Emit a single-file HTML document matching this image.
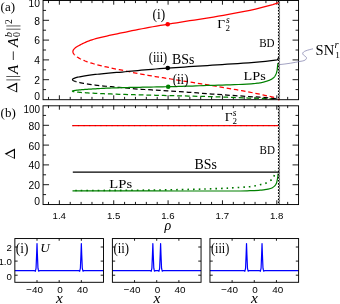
<!DOCTYPE html>
<html><head><meta charset="utf-8"><title>figure</title>
<style>html,body{margin:0;padding:0;background:#fff;}svg{display:block;will-change:transform;}text{font-kerning:normal;}</style></head>
<body>
<svg width="340" height="304" viewBox="0 0 340 304">
<rect x="0" y="0" width="340" height="304" fill="#fff"/>
<g fill="none" stroke="#000" stroke-width="0.9">
<path d="M48.49 0.5v2.6M48.49 99.5v-2.6M59.36 0.5v4.2M59.36 99.5v-4.2M70.23 0.5v2.6M70.23 99.5v-2.6M81.1 0.5v2.6M81.1 99.5v-2.6M91.98 0.5v2.6M91.98 99.5v-2.6M102.85 0.5v2.6M102.85 99.5v-2.6M113.72 0.5v4.2M113.72 99.5v-4.2M124.59 0.5v2.6M124.59 99.5v-2.6M135.46 0.5v2.6M135.46 99.5v-2.6M146.34 0.5v2.6M146.34 99.5v-2.6M157.21 0.5v2.6M157.21 99.5v-2.6M168.08 0.5v4.2M168.08 99.5v-4.2M178.95 0.5v2.6M178.95 99.5v-2.6M189.83 0.5v2.6M189.83 99.5v-2.6M200.7 0.5v2.6M200.7 99.5v-2.6M211.57 0.5v2.6M211.57 99.5v-2.6M222.44 0.5v4.2M222.44 99.5v-4.2M233.32 0.5v2.6M233.32 99.5v-2.6M244.19 0.5v2.6M244.19 99.5v-2.6M255.06 0.5v2.6M255.06 99.5v-2.6M265.93 0.5v2.6M265.93 99.5v-2.6M276.81 0.5v4.2M276.81 99.5v-4.2M287.68 0.5v2.6M287.68 99.5v-2.6M43.05 79.7h6M298.55 79.7h-6M43.05 59.9h6M298.55 59.9h-6M43.05 40.1h6M298.55 40.1h-6M43.05 20.3h6M298.55 20.3h-6M43.05 89.6h3M298.55 89.6h-3M43.05 69.8h3M298.55 69.8h-3M43.05 50h3M298.55 50h-3M43.05 30.2h3M298.55 30.2h-3M43.05 10.4h3M298.55 10.4h-3"/>
<path d="M48.49 105.5v2.6M48.49 204.5v-2.6M59.36 105.5v4.2M59.36 204.5v-4.2M70.23 105.5v2.6M70.23 204.5v-2.6M81.1 105.5v2.6M81.1 204.5v-2.6M91.98 105.5v2.6M91.98 204.5v-2.6M102.85 105.5v2.6M102.85 204.5v-2.6M113.72 105.5v4.2M113.72 204.5v-4.2M124.59 105.5v2.6M124.59 204.5v-2.6M135.46 105.5v2.6M135.46 204.5v-2.6M146.34 105.5v2.6M146.34 204.5v-2.6M157.21 105.5v2.6M157.21 204.5v-2.6M168.08 105.5v4.2M168.08 204.5v-4.2M178.95 105.5v2.6M178.95 204.5v-2.6M189.83 105.5v2.6M189.83 204.5v-2.6M200.7 105.5v2.6M200.7 204.5v-2.6M211.57 105.5v2.6M211.57 204.5v-2.6M222.44 105.5v4.2M222.44 204.5v-4.2M233.32 105.5v2.6M233.32 204.5v-2.6M244.19 105.5v2.6M244.19 204.5v-2.6M255.06 105.5v2.6M255.06 204.5v-2.6M265.93 105.5v2.6M265.93 204.5v-2.6M276.81 105.5v4.2M276.81 204.5v-4.2M287.68 105.5v2.6M287.68 204.5v-2.6M43.05 184.7h6M298.55 184.7h-6M43.05 164.9h6M298.55 164.9h-6M43.05 145.1h6M298.55 145.1h-6M43.05 125.3h6M298.55 125.3h-6M43.05 194.6h3M298.55 194.6h-3M43.05 174.8h3M298.55 174.8h-3M43.05 155h3M298.55 155h-3M43.05 135.2h3M298.55 135.2h-3M43.05 115.4h3M298.55 115.4h-3"/>
</g>
<g fill="none" stroke-width="1.25" stroke-linejoin="round">
<path d="M72.3 91.2L72.34 91.29L72.47 91.37L72.69 91.46L72.99 91.54L73.37 91.63L73.85 91.71L74.41 91.8L75.05 91.88L75.78 91.97L76.6 92.05L77.5 92.14L78.49 92.23L79.57 92.31L80.73 92.4L81.97 92.51L83.31 92.63L84.73 92.74L86.23 92.85L87.82 92.94L89.5 93.04L91.26 93.13L93.11 93.23L95.04 93.33L97.07 93.42L99.17 93.52L101.36 93.61L103.64 93.7L106.01 93.8L108.46 93.89L111 93.98L113.62 94.07L116.33 94.17L119.12 94.26L122 94.35L124.97 94.45L128.02 94.54L131.16 94.63L134.39 94.72L137.7 94.82L141.09 94.91L144.57 95L148.14 95.09L151.8 95.19L155.54 95.28L159.37 95.37L163.28 95.47L167.28 95.56L171.36 95.65L175.53 95.75L179.79 95.85L184.13 95.95L188.56 96.06L193.07 96.17L197.67 96.29L202.36 96.41L207.13 96.53L211.99 96.67L216.94 96.84L221.97 97.03L227.08 97.24L232.29 97.44L237.57 97.65L242.95 97.85L248.41 98.02L253.95 98.19L259.59 98.37L265.31 98.56L271.11 98.78L277 99.04" stroke="#008000" stroke-dasharray="4.8 2.9" stroke-dashoffset="-5.0"/>
<path d="M75.25 81.42L75.98 81.64L76.8 81.87L77.7 82.1L78.69 82.32L79.76 82.55L80.92 82.79L82.16 83.04L83.5 83.29L84.91 83.55L86.42 83.81L88.01 84.07L89.68 84.33L91.44 84.59L93.29 84.84L95.22 85.08L97.24 85.31L99.35 85.55L101.54 85.79L103.81 86.03L106.18 86.25L108.62 86.48L111.16 86.7L113.78 86.93L116.48 87.16L119.28 87.42L122.15 87.68L125.12 87.96L128.17 88.24L131.3 88.52L134.52 88.78L137.83 89.03L141.23 89.26L144.7 89.5L148.27 89.73L151.92 89.96L155.66 90.19L159.48 90.42L163.39 90.65L167.38 90.88L171.46 91.12L175.63 91.36L179.88 91.64L184.22 91.95L188.65 92.28L193.16 92.63L197.75 92.99L202.43 93.35L207.2 93.7L212.05 94.05L216.99 94.39L222.02 94.74L227.13 95.08L232.33 95.44L237.61 95.79L242.98 96.15L248.44 96.5L253.98 96.85L259.6 97.21L265.32 97.61L271.12 98.1L277 98.68" stroke="#000" stroke-dasharray="4.8 2.9" stroke-dashoffset="-4.2"/>
<path d="M74.43 54.72L74.98 55.25L75.62 55.79L76.35 56.35L77.15 56.92L78.05 57.5L79.02 58.1L80.09 58.69L81.24 59.27L82.47 59.85L83.79 60.42L85.19 61L86.68 61.56L88.25 62.11L89.91 62.67L91.66 63.22L93.49 63.77L95.4 64.31L97.4 64.8L99.48 65.3L101.65 65.84L103.91 66.39L106.25 66.93L108.67 67.48L111.18 68.03L113.77 68.58L116.45 69.12L119.22 69.67L122.07 70.23L125 70.84L128.02 71.49L131.13 72.15L134.32 72.82L137.59 73.47L140.95 74.09L144.4 74.7L147.93 75.31L151.54 75.91L155.24 76.51L159.03 77.12L162.9 77.73L166.86 78.36L170.9 79L175.02 79.65L179.23 80.32L183.53 81.01L187.91 81.71L192.38 82.42L196.93 83.16L201.56 83.9L206.28 84.67L211.09 85.45L215.98 86.25L220.96 87.07L226.02 87.92L231.17 88.81L236.4 89.73L241.71 90.68L247.12 91.68L252.6 92.75L258.17 93.89L263.83 95.1L269.57 96.37L275.4 97.69" stroke="#f00" stroke-dasharray="4.5 2.8" stroke-dashoffset="-3.4"/>
<path d="M72.3 91.2L72.33 91.12L72.4 91.05L72.53 90.97L72.72 90.9L72.95 90.82L73.23 90.75L73.57 90.67L73.96 90.6L74.4 90.52L74.9 90.44L75.44 90.37L76.04 90.29L76.69 90.22L77.39 90.14L78.14 90.07L78.95 89.99L79.8 89.91L80.71 89.83L81.67 89.74L82.69 89.66L83.75 89.56L84.87 89.47L86.03 89.38L87.25 89.29L88.53 89.19L89.85 89.1L91.23 89.02L92.65 88.93L94.13 88.84L95.67 88.76L97.25 88.67L98.89 88.58L100.57 88.5L102.31 88.41L104.1 88.33L105.95 88.24L107.84 88.16L109.79 88.08L111.79 88L113.84 87.93L115.94 87.85L118.1 87.78L120.3 87.71L122.56 87.64L124.87 87.57L127.24 87.52L129.65 87.47L132.12 87.44L134.64 87.4L137.21 87.35L139.83 87.29L142.5 87.23L145.23 87.18L148.01 87.12L150.84 87.06L153.72 87L156.65 86.94L159.64 86.88L162.68 86.82L165.77 86.75L168.91 86.67L172.1 86.6L175.35 86.51L178.64 86.43L181.99 86.34L185.39 86.24L188.85 86.14L192.35 86.04L195.91 85.9L199.52 85.75L203.18 85.6L206.89 85.47L210.65 85.36L214.47 85.26L218.34 85.16L222.26 85.06L226.23 84.96L230.26 84.84L234.33 84.69L238.46 84.5L242.64 84.28L246.87 84.04L251.16 83.77L255.49 83.42L258 83.16L258.2 83.14L258.4 83.12L258.6 83.09L258.8 83.07L259 83.04L259.2 83.01L259.4 82.99L259.6 82.96L259.8 82.93L260 82.9L260.2 82.87L260.4 82.84L260.6 82.8L260.8 82.76L261 82.72L261.2 82.68L261.4 82.64L261.6 82.59L261.8 82.55L262 82.5L262.2 82.45L262.4 82.4L262.6 82.35L262.8 82.3L263 82.24L263.2 82.19L263.4 82.13L263.6 82.08L263.8 82.02L264 81.97L264.2 81.91L264.4 81.85L264.6 81.79L264.8 81.74L265 81.68L265.2 81.62L265.4 81.56L265.6 81.51L265.8 81.45L266 81.39L266.2 81.33L266.4 81.27L266.6 81.21L266.8 81.15L267 81.08L267.2 81.02L267.4 80.95L267.6 80.89L267.8 80.82L268 80.75L268.2 80.68L268.4 80.61L268.6 80.53L268.8 80.46L269 80.38L269.2 80.3L269.4 80.22L269.6 80.13L269.8 80.05L270 79.96L270.2 79.87L270.4 79.78L270.6 79.69L270.8 79.59L271 79.49L271.2 79.38L271.4 79.27L271.6 79.15L271.8 79.03L272 78.91L272.2 78.78L272.4 78.64L272.6 78.5L272.8 78.35L273 78.2L273.2 78.03L273.4 77.87L273.6 77.69L273.8 77.51L274 77.3L274.2 77.08L274.4 76.83L274.6 76.57L274.8 76.28L275 75.96L275.2 75.63L275.4 75.28L275.6 74.9L275.8 74.5L276 74.07L276.2 73.57L276.4 73L276.6 72.34L276.8 71.58L277 70.72L277.2 69.63L277.4 67.86L277.6 65.94L277.8 64.33L277.95 63.2" stroke="#008000"/>
<path d="M75.25 81.42L74.6 81.19L74.05 80.96L73.57 80.74L73.19 80.51L72.89 80.28L72.67 80.05L72.54 79.83L72.5 79.6L72.54 79.38L72.67 79.17L72.89 78.95L73.19 78.73L73.57 78.52L74.05 78.3L74.61 78.08L75.25 77.87L75.98 77.65L76.8 77.43L77.7 77.22L78.69 77L79.77 76.78L80.93 76.56L82.17 76.34L83.51 76.12L84.93 75.89L86.43 75.64L88.02 75.38L89.7 75.13L91.46 74.91L93.31 74.69L95.24 74.47L97.27 74.25L99.37 74.03L101.56 73.81L103.84 73.6L106.21 73.37L108.66 73.15L111.2 72.93L113.82 72.71L116.53 72.48L119.32 72.26L122.2 72.03L125.17 71.75L128.22 71.45L131.36 71.14L134.59 70.82L137.9 70.52L141.29 70.22L144.77 69.92L148.34 69.61L152 69.31L155.74 69L159.57 68.7L163.48 68.4L167.48 68.11L171.56 67.84L175.73 67.56L179.99 67.29L184.33 67.01L188.76 66.72L193.27 66.42L197.87 66.12L202.56 65.82L207.33 65.51L212.19 65.19L217.14 64.88L222.17 64.55L227.28 64.22L232.49 63.89L237.77 63.53L243.15 63.17L248.61 62.78L254.15 62.35L259.79 61.86L265.51 61.28L271.31 60.66L277.2 59.98L277.8 59.2L278.5 57.7" stroke="#000"/>
<path d="M74.43 54.72L73.96 54.19L73.58 53.66L73.28 53.14L73.07 52.63L72.94 52.11L72.9 51.6L72.94 51.11L73.07 50.61L73.29 50.12L73.59 49.62L73.98 49.12L74.46 48.62L75.02 48.11L75.67 47.59L76.4 47.07L77.22 46.53L78.13 45.98L79.12 45.42L80.21 44.83L81.37 44.22L82.63 43.6L83.97 42.98L85.39 42.34L86.91 41.69L88.5 41.04L90.19 40.43L91.96 39.84L93.82 39.25L95.77 38.68L97.8 38.13L99.92 37.61L102.12 37.1L104.41 36.58L106.79 36.03L109.25 35.48L111.8 34.91L114.44 34.35L117.16 33.78L119.97 33.22L122.87 32.63L125.85 32.02L128.92 31.38L132.08 30.73L135.32 30.06L138.65 29.4L142.06 28.75L145.56 28.09L149.15 27.43L152.83 26.76L156.59 26.1L160.43 25.43L164.37 24.76L168.39 24.09L172.49 23.42L176.69 22.76L180.97 22.1L185.33 21.43L189.78 20.74L194.32 20.04L198.95 19.33L203.66 18.6L208.46 17.84L213.34 17.03L218.31 16.17L223.37 15.27L228.51 14.36L233.74 13.44L239.06 12.49L244.46 11.48L249.95 10.35L255.53 9.08L261.19 7.7L266.94 6.2L272.78 4.57L278.7 2.59" stroke="#f00"/>
</g>
<circle cx="167.7" cy="24.2" r="2.3" fill="#f00"/>
<circle cx="167.8" cy="68.05" r="2.3" fill="#000"/>
<circle cx="168.2" cy="86.7" r="2.3" fill="#008000"/>
<circle cx="278.8" cy="99.5" r="0.9" fill="#f00"/>
<g fill="none" stroke-width="1.2">
<path d="M72.3 125.7H278.8" stroke="#f00"/>
<path d="M72.3 125.7H278.8" stroke="#700" stroke-width="0.9" stroke-dasharray="1.2 4.4" opacity="0.55"/>
<path d="M72.8 172.2H279.2" stroke="#000" stroke-width="1.3"/>
<path d="M72.5 190.9C85.42 190.91 123.75 190.93 150 190.95C176.25 190.97 213.33 191.04 230 191C246.67 190.96 245 190.83 250 190.7C255 190.57 257.67 190.35 260 190.2C262.33 190.05 262.67 189.97 264 189.8C265.33 189.63 266.67 189.5 268 189.2C269.33 188.9 270.83 188.58 272 188C273.17 187.42 274.23 186.58 275 185.7C275.77 184.82 276.18 183.88 276.6 182.7C277.02 181.52 277.28 179.72 277.5 178.6C277.72 177.48 277.8 176.83 277.9 176C278 175.17 278.07 174 278.1 173.6" stroke="#008000"/>
<path d="M72.5 190.5C78.75 190.48 97.08 190.47 110 190.4C122.92 190.33 136.67 190.27 150 190.1C163.33 189.93 178.33 189.67 190 189.4C201.67 189.13 212.83 188.77 220 188.5C227.17 188.23 228.93 188.03 233 187.8C237.07 187.57 241.57 187.28 244.4 187.1C247.23 186.92 248.18 186.92 250 186.7C251.82 186.48 253.48 186.17 255.3 185.8C257.12 185.43 259.12 184.95 260.9 184.5C262.68 184.05 264.37 183.8 266 183.1C267.63 182.4 269.6 181.08 270.7 180.3C271.8 179.52 272.05 179.08 272.6 178.4C273.15 177.72 273.65 177.02 274 176.2C274.35 175.38 274.5 174.43 274.7 173.5C274.9 172.57 275.12 171.08 275.2 170.6" stroke="#007800" stroke-width="1.6" stroke-dasharray="1.6 4.0" stroke-dashoffset="-2.8"/>
</g>
<g fill="none">
<path d="M278.6 0.5V99.5 M278.6 105.5V204.5" stroke="#000" stroke-width="1.3" stroke-dasharray="1.7 1.4"/>
<path d="M279.5 0.5V99.5 M279.5 105.5V204.5" stroke="#222" stroke-width="0.8" stroke-dasharray="1.5 1.6" stroke-dashoffset="-1.6"/>
<path d="M279.6 0.5V99.5 M279.6 105.5V204.5" stroke="#777" stroke-width="0.4"/>
</g>
<g fill="none" stroke="#000" stroke-width="0.95">
<rect x="43.05" y="0.5" width="255.5" height="99.2"/>
<rect x="43.05" y="105.8" width="255.5" height="98.75"/>
</g>
<path d="M279.4 64.6 C287 63.9 294 62.7 300 61.4 C303 61 305.6 60.6 306.4 58.6 C307.2 56.4 302.8 55.6 302.7 53.6 C302.6 51.2 308 50 313 48.8" fill="none" stroke="#7a7aa8" stroke-width="0.7"/>
<g font-family="Liberation Sans, sans-serif" font-size="10.3" fill="#000" text-anchor="end">
<text x="39.9" y="6.9">10</text>
<text x="39.9" y="24.5">8</text>
<text x="39.9" y="44.3">6</text>
<text x="39.9" y="64.1">4</text>
<text x="39.9" y="83.9">2</text>
<text x="39.9" y="100">0</text>
<text x="39.9" y="129.8">80</text>
<text x="39.9" y="149.7">60</text>
<text x="39.9" y="169.4">40</text>
<text x="39.9" y="189.3">20</text>
<text x="39.9" y="204.9">0</text>
<text x="39.9" y="112.6" textLength="16.5" lengthAdjust="spacingAndGlyphs">100</text>
</g>
<g font-family="Liberation Sans, sans-serif" font-size="9.5" fill="#000">
<text x="52.56" y="218.8" textLength="13.4" lengthAdjust="spacingAndGlyphs">1.4</text>
<text x="106.92" y="218.8" textLength="13.4" lengthAdjust="spacingAndGlyphs">1.5</text>
<text x="161.28" y="218.8" textLength="13.4" lengthAdjust="spacingAndGlyphs">1.6</text>
<text x="215.64" y="218.8" textLength="13.4" lengthAdjust="spacingAndGlyphs">1.7</text>
<text x="270.01" y="218.8" textLength="13.4" lengthAdjust="spacingAndGlyphs">1.8</text>
</g>
<g font-family="Liberation Serif, serif" fill="#000">
<text x="0.6" y="10.8" font-size="13">(a)</text>
<text x="0.6" y="116.6" font-size="13">(b)</text>
<text x="152.6" y="19" font-size="14" textLength="12.6" lengthAdjust="spacingAndGlyphs">(i)</text>
<text x="148.8" y="62.4" font-size="14" textLength="18.4" lengthAdjust="spacingAndGlyphs">(iii)</text>
<text x="171.9" y="63.6" font-size="14" textLength="22.4" lengthAdjust="spacingAndGlyphs">BSs</text>
<text x="172.8" y="84.1" font-size="14" textLength="15.6" lengthAdjust="spacingAndGlyphs">(ii)</text>
<text x="243.6" y="79.8" font-size="13.4" textLength="22.2" lengthAdjust="spacingAndGlyphs">LPs</text>
<text x="259.2" y="47.0" font-size="12.2" textLength="15.4" lengthAdjust="spacingAndGlyphs">BD</text>
<text x="217.2" y="27.5" font-size="13.5">&#915;</text>
<text x="225.9" y="22.5" font-size="9.5" font-style="italic">s</text>
<text x="225.6" y="30.8" font-size="9">2</text>
<text x="315.6" y="54.5" font-size="15.4" textLength="18.6" lengthAdjust="spacingAndGlyphs">SN</text>
<text x="334.6" y="47.8" font-size="10.5" font-style="italic">r</text>
<text x="335.2" y="57.6" font-size="9.2">1</text>
<text x="109.3" y="187.6" font-size="13.4" textLength="22.8" lengthAdjust="spacingAndGlyphs">LPs</text>
</g>
<g font-family="Liberation Serif, serif" fill="#000">
<text x="224.8" y="121.0" font-size="13.5">&#915;</text>
<text x="232.8" y="116.2" font-size="9.5" font-style="italic">s</text>
<text x="232.6" y="124.4" font-size="9">2</text>
<text x="194.6" y="168.7" font-size="14" textLength="22.4" lengthAdjust="spacingAndGlyphs">BSs</text>
<text x="259.5" y="154.2" font-size="12.2" textLength="15.4" lengthAdjust="spacingAndGlyphs">BD</text>
<text x="164.4" y="230.4" font-size="14" font-style="italic">&#961;</text>
</g>
<path d="M6.5 87.6L17.2 82.5L17.2 92.5ZM8.92 87.94L16.1 84.52L16.1 91.23Z" fill="#000" fill-rule="evenodd"/>
<path d="M4.6 153.8L15 148.4L15 159ZM6.86 154.15L13.9 150.49L13.9 157.67Z" fill="#000" fill-rule="evenodd"/>
<path d="M6.3 79.9H20.3M6.3 76.5H20.3M6.3 29.2H20.5M6.3 25.95H20.5" fill="none" stroke="#000" stroke-width="0.65"/><path d="M13.3 60V51.4" fill="none" stroke="#000" stroke-width="0.8"/>
<g font-family="Liberation Serif, serif" fill="#000">
<text transform="translate(17.6 74.1) rotate(-90)" font-size="15" font-style="italic">A</text>
<text transform="translate(17.6 47.0) rotate(-90)" font-size="15" font-style="italic">A</text>
<text transform="translate(20.3 37.0) rotate(-90)" font-size="10">0</text>
<text transform="translate(11.9 37.3) rotate(-90)" font-size="10.5" font-style="italic">b</text>
<text transform="translate(12.1 23.9) rotate(-90)" font-size="9.5">2</text>
</g>
<path d="M37.01 238.55v2.2M37.01 282.3v-2.2M59.18 238.55v2.2M59.18 282.3v-2.2M81.34 238.55v2.2M81.34 282.3v-2.2M14.85 275.2h2.8M103.5 275.2h-2.8M14.85 261.1h2.8M103.5 261.1h-2.8M14.85 247h2.8M103.5 247h-2.8" fill="none" stroke="#000" stroke-width="0.9"/>
<path d="M14.85 270.65L34.61 270.65L35.41 271.25L36.06 268.15L36.61 254.65L37.01 243.6L37.41 254.65L37.96 268.15L38.61 271.25L39.41 270.65L78.94 270.65L79.74 271.25L80.39 268.15L80.94 254.65L81.34 243.6L81.74 254.65L82.29 268.15L82.94 271.25L83.74 270.65L103.5 270.65" fill="none" stroke="#00f" stroke-width="1.2" stroke-linejoin="round"/>
<rect x="14.85" y="238.55" width="88.65" height="43.75" fill="none" stroke="#000" stroke-width="0.95"/>
<text x="15.85" y="252.5" font-family="Liberation Serif, serif" font-size="14" textLength="12.6" lengthAdjust="spacingAndGlyphs">(i)</text>
<g font-family="Liberation Sans, sans-serif" font-size="9.9" fill="#000" text-anchor="middle">
<text x="34.61" y="292.6">&#8722;40</text>
<text x="59.98" y="292.6">0</text>
<text x="82.54" y="292.6">40</text>
</g>
<text x="59.48" y="303.3" font-family="Liberation Serif, serif" font-size="15.5" font-style="italic" text-anchor="middle">x</text>
<path d="M134.56 238.55v2.2M134.56 282.3v-2.2M156.73 238.55v2.2M156.73 282.3v-2.2M178.89 238.55v2.2M178.89 282.3v-2.2M112.4 275.2h2.8M201.05 275.2h-2.8M112.4 261.1h2.8M201.05 261.1h-2.8M112.4 247h2.8M201.05 247h-2.8" fill="none" stroke="#000" stroke-width="0.9"/>
<path d="M112.4 270.65L150.45 270.65L151.25 271.25L151.9 268.15L152.45 254.65L152.85 243.6L153.25 254.65L153.8 268.15L154.45 271.25L155.25 270.65L158.2 270.65L159 271.25L159.65 268.15L160.2 254.65L160.6 243.6L161 254.65L161.55 268.15L162.2 271.25L163 270.65L201.05 270.65" fill="none" stroke="#00f" stroke-width="1.2" stroke-linejoin="round"/>
<rect x="112.4" y="238.55" width="88.65" height="43.75" fill="none" stroke="#000" stroke-width="0.95"/>
<text x="113.4" y="252.5" font-family="Liberation Serif, serif" font-size="14" textLength="15.6" lengthAdjust="spacingAndGlyphs">(ii)</text>
<g font-family="Liberation Sans, sans-serif" font-size="9.9" fill="#000" text-anchor="middle">
<text x="132.16" y="292.6">&#8722;40</text>
<text x="157.53" y="292.6">0</text>
<text x="180.09" y="292.6">40</text>
</g>
<text x="157.03" y="303.3" font-family="Liberation Serif, serif" font-size="15.5" font-style="italic" text-anchor="middle">x</text>
<path d="M232.11 238.55v2.2M232.11 282.3v-2.2M254.27 238.55v2.2M254.27 282.3v-2.2M276.44 238.55v2.2M276.44 282.3v-2.2M209.95 275.2h2.8M298.6 275.2h-2.8M209.95 261.1h2.8M298.6 261.1h-2.8M209.95 247h2.8M298.6 247h-2.8" fill="none" stroke="#000" stroke-width="0.9"/>
<path d="M209.95 270.65L244.12 270.65L244.92 271.25L245.57 268.15L246.12 254.65L246.52 243.6L246.92 254.65L247.47 268.15L248.12 271.25L248.92 270.65L259.63 270.65L260.43 271.25L261.08 268.15L261.63 254.65L262.03 243.6L262.43 254.65L262.98 268.15L263.63 271.25L264.43 270.65L298.6 270.65" fill="none" stroke="#00f" stroke-width="1.2" stroke-linejoin="round"/>
<rect x="209.95" y="238.55" width="88.65" height="43.75" fill="none" stroke="#000" stroke-width="0.95"/>
<text x="210.95" y="252.5" font-family="Liberation Serif, serif" font-size="14" textLength="18.4" lengthAdjust="spacingAndGlyphs">(iii)</text>
<g font-family="Liberation Sans, sans-serif" font-size="9.9" fill="#000" text-anchor="middle">
<text x="229.71" y="292.6">&#8722;40</text>
<text x="255.07" y="292.6">0</text>
<text x="277.64" y="292.6">40</text>
</g>
<text x="254.57" y="303.3" font-family="Liberation Serif, serif" font-size="15.5" font-style="italic" text-anchor="middle">x</text>
<text x="40.3" y="252.3" font-family="Liberation Serif, serif" font-size="13.2" font-style="italic">U</text>
<g font-family="Liberation Sans, sans-serif" font-size="9.7" fill="#000" text-anchor="end">
<text x="11.9" y="250.5">2</text>
<text x="11.9" y="265.0">1.0</text>
<text x="11.9" y="280.2">0</text>
</g>
</svg>
</body></html>
